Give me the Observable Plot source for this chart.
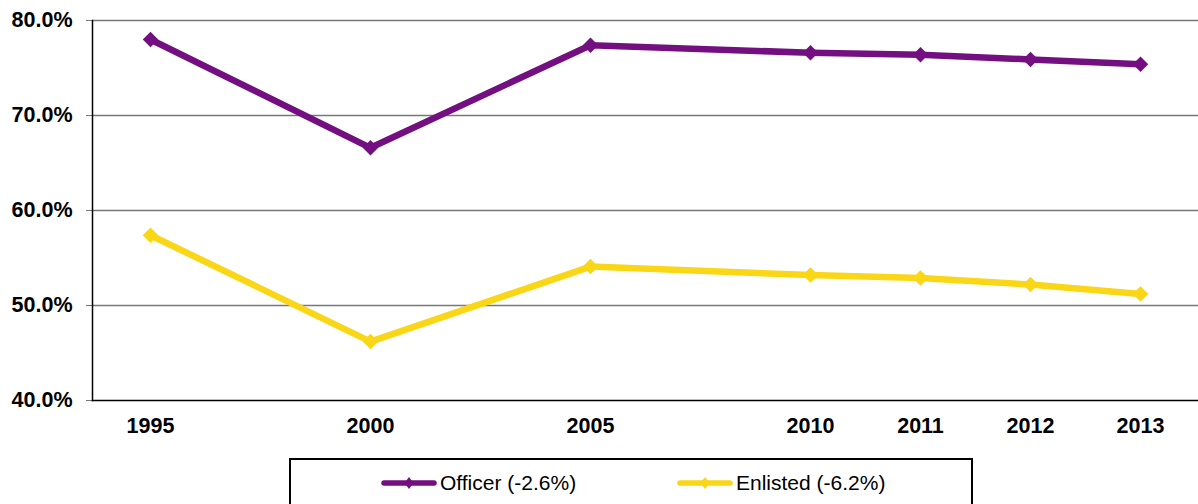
<!DOCTYPE html>
<html>
<head>
<meta charset="utf-8">
<script src="https://cdn.jsdelivr.net/npm/d3@7"></script>
<script src="https://cdn.jsdelivr.net/npm/@observablehq/plot@0.6"></script>
<style>
  html, body { margin: 0; padding: 0; background: #fff; overflow: hidden; }
  #wrap { position: relative; width: 1198px; height: 504px; font-family: "Liberation Sans", Arial, sans-serif; }
  #legend { position: absolute; left: 289px; top: 458px; width: 680px; height: 80px; border: 2px solid #000; box-sizing: content-box; }
  .item { position: absolute; top: 12px; display: flex; align-items: center; font-size: 21px; line-height: 22px; color: #000; }
  .item svg { display: block; margin-right: 3px; }
</style>
</head>
<body>
<div id="wrap"></div>
<script>
// Data
const slots = ["1995", "gap1", "2000", "gap2", "2005", "gap3", "2010", "2011", "2012", "2013"];
const years = ["1995", "2000", "2005", "2010", "2011", "2012", "2013"];
const officer = [78.0, 66.6, 77.4, 76.6, 76.4, 75.9, 75.4];
const enlisted = [57.4, 46.2, 54.1, 53.2, 52.9, 52.2, 51.2];
const seriesNames = ["Officer (-2.6%)", "Enlisted (-6.2%)"];
const seriesColors = ["#730f80", "#f9d616"];
const yTicks = [40, 50, 60, 70, 80];

const rows = [];
years.forEach((y, i) => {
  rows.push({year: y, value: officer[i], series: seriesNames[0]});
  rows.push({year: y, value: enlisted[i], series: seriesNames[1]});
});

const chart = Plot.plot({
  width: 1198,
  height: 446,
  marginLeft: 92,
  marginRight: 0,
  marginTop: 20,
  marginBottom: 46,
  style: {fontFamily: "'Liberation Sans', Arial, sans-serif", fontWeight: "bold", fontSize: "21.5px", color: "#000", background: "#fff", overflow: "visible"},
  x: {type: "point", domain: slots, padding: 0.5, label: null},
  y: {domain: [40, 80], label: null},
  color: {domain: seriesNames, range: seriesColors},
  marks: [
    Plot.ruleY(yTicks.filter(d => d > 40), {stroke: "#777", strokeWidth: 1.3}),
    Plot.axisY({ticks: yTicks, tickFormat: d => d.toFixed(1) + "%", tickSize: 6, tickPadding: 14, stroke: "#777", label: null, fontSize: 21.5, fontWeight: "bold"}),
    Plot.axisX({ticks: years, tickSize: 0, tickPadding: 17, label: null, fontSize: 21.5, fontWeight: "bold"}),
    Plot.line(rows, {x: "year", y: "value", z: "series", stroke: "series", strokeWidth: 6.5, strokeLinejoin: "round", strokeLinecap: "round"}),
    Plot.dot(rows, {x: "year", y: "value", fill: "series", symbol: "square", r: 6.2, rotate: 45, stroke: null}),
    Plot.frame({anchor: "left", stroke: "#000", strokeWidth: 1.5}),
    Plot.frame({anchor: "bottom", stroke: "#000", strokeWidth: 1.5})
  ]
});
const wrap = document.getElementById("wrap");
chart.style.display = "block";
wrap.appendChild(chart);

// Legend (below the SVG)
const legend = document.createElement("div");
legend.id = "legend";
const itemLefts = [90, 386];
seriesNames.forEach((name, i) => {
  const item = document.createElement("div");
  item.className = "item";
  item.style.left = itemLefts[i] + "px";
  const sw = d3.create("svg").attr("width", 56).attr("height", 16);
  sw.append("line").attr("x1", 3).attr("x2", 53).attr("y1", 8).attr("y2", 8)
    .attr("stroke", seriesColors[i]).attr("stroke-width", 5.5).attr("stroke-linecap", "round");
  sw.append("path").attr("d", "M28,2 L32.5,8 L28,14 L23.5,8 Z").attr("fill", seriesColors[i]);
  item.appendChild(sw.node());
  const t = document.createElement("span");
  t.textContent = name;
  item.appendChild(t);
  legend.appendChild(item);
});
wrap.appendChild(legend);
</script>
</body>
</html>
